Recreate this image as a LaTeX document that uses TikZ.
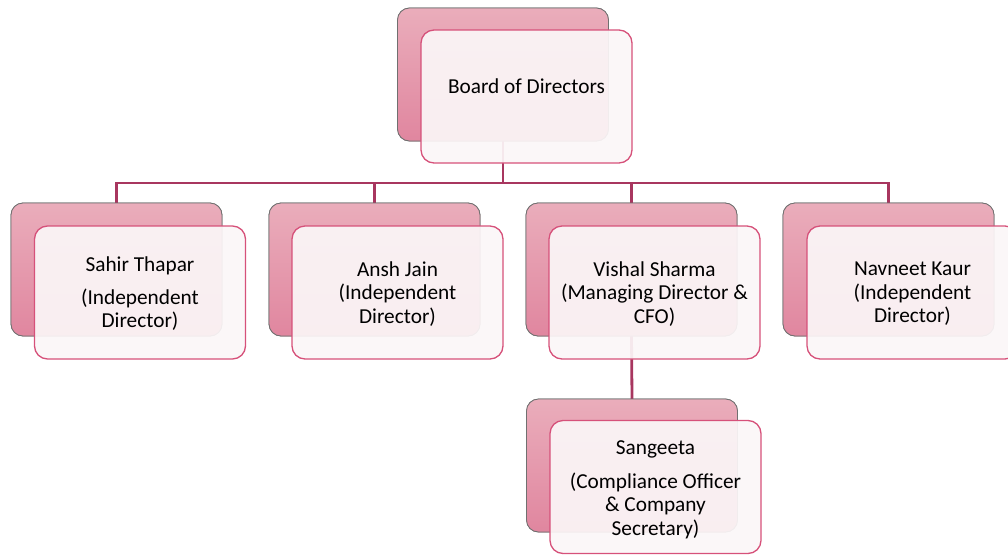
\documentclass[tikz,border=0pt]{standalone}
\usepackage{fontspec}
\setmainfont{Carlito}
\definecolor{linecol}{HTML}{A8365F}
\definecolor{backtop}{HTML}{EAADBB}
\definecolor{backbot}{HTML}{E0869F}
\definecolor{backedge}{HTML}{707070}
\definecolor{frontedge}{HTML}{D6517A}
\definecolor{frontfill}{HTML}{FBF6F7}
\tikzset{
  backbox/.style={draw=backedge, line width=0.8pt, rounded corners=12pt,
    top color=backtop, bottom color=backbot, minimum width=211pt, minimum height=133pt,
    inner sep=0pt, outer sep=0pt},
  frontbox/.style={draw=frontedge, line width=1.3pt, rounded corners=13pt,
    fill=frontfill, fill opacity=0.93, minimum width=211pt, minimum height=133pt,
    inner sep=0pt, outer sep=0pt},
  label text/.style={align=center, inner sep=0pt, font=\fontsize{21.3}{23.5}\selectfont, text=black},
  conn/.style={draw=linecol, line width=2.8pt}
}
\begin{document}
\begin{tikzpicture}[x=1pt,y=-1pt]
\useasboundingbox (0,0) rectangle (1008,554);
% back boxes (placed first to define anchors)
\node[backbox] (b0) at (503,74.5) {};
\node[backbox] (b1) at (116.5,269.5) {};
\node[backbox] (b2) at (374.5,269.5) {};
\node[backbox] (b3) at (631.5,269.5) {};
\node[backbox] (b4) at (888.5,269.5) {};
\node[backbox] (b5) at (632,465.5) {};
% connectors
\coordinate (j0) at (503,183);
\coordinate (j1) at (116.5,183);
\coordinate (j2) at (374.5,183);
\coordinate (j3) at (631.5,183);
\coordinate (j4) at (888.5,183);
\draw[conn] (b0.south) -- (j0);
\draw[conn, line cap=rect] (j1) -- (j4);
\draw[conn] (j1) -- (b1.north);
\draw[conn] (j2) -- (b2.north);
\draw[conn] (j3) -- (b3.north);
\draw[conn] (j4) -- (b4.north);
\draw[conn] (b3.south) -- (b5.north);
% redraw back boxes on top of connectors
\node[backbox] at (b0) {};
\node[backbox] at (b1) {};
\node[backbox] at (b2) {};
\node[backbox] at (b3) {};
\node[backbox] at (b4) {};
\node[backbox] at (b5) {};
% front boxes
\node[frontbox] (f0) at (526.5,96.5) {};
\node[frontbox] (f1) at (140,292.5) {};
\node[frontbox] (f2) at (397.5,292.5) {};
\node[frontbox] (f3) at (654.5,292.5) {};
\node[frontbox] (f4) at (912.5,292.5) {};
\node[frontbox] (f5) at (655.5,487) {};
% texts
\node[label text] (t0) at (526.5,86) {Board of Directors};
\node[label text] (t1) at (140,294) {Sahir Thapar\\[9pt](Independent\\Director)};
\node[label text] (t2) at (397.5,294) {Ansh Jain\\(Independent\\Director)};
\node[label text] (t3) at (654.5,294) {Vishal Sharma\\(Managing Director \&\\CFO)};
\node[label text] (t4) at (912.5,294) {Navneet Kaur\\(Independent\\Director)};
\node[label text] (t5) at (655.5,490) {Sangeeta\\[10pt](Compliance Officer\\\& Company\\Secretary)};
\end{tikzpicture}
\end{document}
